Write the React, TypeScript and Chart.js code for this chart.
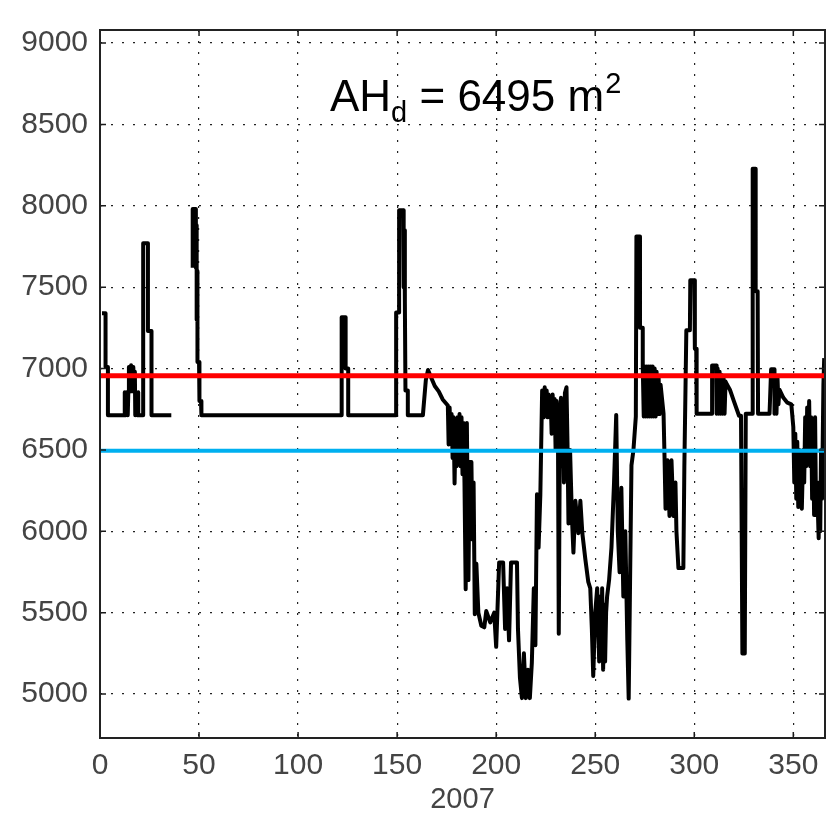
import React, { useEffect, useRef } from "react";
import { Chart, registerables } from "chart.js";

Chart.register(...registerables);

const xTicks = [0, 50, 100, 150, 200, 250, 300, 350];
const yTicks = [5000, 5500, 6000, 6500, 7000, 7500, 8000, 8500, 9000];
const xTitle = "2007";
const upperLimit = 6955;
const lowerLimit = 6495;

const days = [
  1, 2.8, 2.8, 4, 4, 12.5, 12.5, 13, 13.5, 14, 14.3, 14.6, 15.2, 15.7, 16.3, 16.8, 17.4, 17.6, 17.8, 18.3, 18.8, 19.3, 19.3,
  21.8, 21.8, 24.2, 24.2, 26, 26, 36,
  41,
  46.8, 46.8, 48.4, 48.4, 48.8, 48.8, 49.2, 49.2, 50, 50.2, 51, 51.2, 122, 122, 124, 124, 125.3, 125.3,
  149.5, 149.5, 151, 151, 153, 153.3, 153.6, 153.9, 154.2, 155.4, 155.4, 163, 164.5, 165.6, 167, 169, 171,
  173, 175.6, 176, 176.5, 177, 177.5, 178, 178.5, 179, 179.5, 180, 180.5, 181, 181.5, 182, 182.5, 183, 183.5, 184,
  184.6, 185.2, 186, 186.6, 187.5, 188, 188.6,
  189.2, 190, 191, 192.5, 194, 195, 197, 199, 200, 200.6, 201.5, 203.5, 204.5, 205.5, 206.5, 207.5, 210.5,
  211, 212, 213, 214, 215, 216, 217, 218, 219, 219.8, 220.6, 221.4, 222.3,
  223.2, 224, 224.5, 225, 225.5, 226, 226.5, 227, 227.5, 228, 228.5, 229, 229.5, 230, 230.5, 231.2, 231.6, 232.2,
  232.7, 233.2, 233.7, 234.2, 234.7, 235.5, 236, 236.5, 237.3, 238.2, 239, 240, 241.5, 242.5,
  243.5, 245, 246.5, 247.5, 248.3, 249, 250, 251, 252, 252.5, 253, 253.5, 254, 254.5, 255, 255.5, 256, 257, 258.2,
  259.5, 260.6, 261.4,
  262.3, 263.2, 264.2, 265.2, 266.2, 266.9, 267.6, 268.3, 269.3, 270.5, 270.8, 272.6, 272.6,
  274, 274, 274.5, 275, 275.5, 276, 276.5, 277, 277.5, 278, 278.5, 279, 279.5, 280, 280.5, 281, 281.5, 282, 282.5, 283,
  284.5, 285, 285.5, 286.5, 287.5, 288.5, 289.5, 290.5, 291, 292,
  294.5, 295, 296, 297.8, 298, 300, 300.3, 301, 301.2,
  309, 309, 311, 311.3, 311.8, 312.3, 312.8, 313.3, 313.8, 314.3, 314.8, 315.3, 315.8,
  316.6, 318, 320, 322.6, 323.6, 324.3, 325.5, 326, 329.5, 329.5, 331, 331, 332, 332.2,
  338, 338.8, 340.5, 340.5, 341, 341.5, 342, 342.5, 343, 345, 347, 349,
  350, 350.5, 351, 351.5, 352, 352.5, 353, 353.5, 354.3, 355, 355.5, 356, 356.5, 357, 357.5, 358, 358.5, 359,
  359.5, 360, 360.5, 361, 361.5, 362, 362.8, 363.2, 363.6, 364, 364.5, 365.2, 365.6,
];

const areaValues = [
  7340, 7340, 7010, 7010, 6713, 6713, 6855, 6713, 6855, 6713, 6855, 7010, 6860, 7020, 6860, 7010, 6860, 6980, 6713, 6855, 6713, 6855, 6713,
  6713, 7770, 7770, 7230, 7230, 6713, 6713,
  null,
  7620, 7980, 7980, 7620, 7880, 7300, 7600, 7040, 7040, 6800, 6800, 6713, 6713, 7315, 7315, 7000, 7000, 6713,
  6713, 7345, 7345, 7973, 7973, 7500, 7850, 7413, 6865, 6865, 6713, 6713, 6930, 6991, 6950, 6893, 6860,
  6810, 6773, 6533, 6760, 6560, 6720, 6450, 6700, 6294, 6650, 6400, 6700, 6500, 6720, 6400, 6700, 6350, 6665, 6300,
  5644, 6665, 5700, 6426, 6426, 5950, 6300,
  5490, 5800, 5500, 5420, 5410, 5510, 5440, 5500, 5290, 5500, 5809, 5809, 5400, 5650, 5330, 5809, 5809,
  5400, 5100, 4975, 5250, 4975, 5150, 4975, 5191, 5650, 5300, 6227, 5900, 6227,
  6865, 6700, 6885, 6720, 6865, 6700, 6840, 6705, 6813, 6600, 6840, 6720, 6813, 6500, 6800, 6600, 5370, 6705,
  6820, 6400, 6800, 6300, 6850, 6885, 6546, 6048, 6500, 6100, 5869, 6187, 5988, 6187,
  5988, 5830, 5689, 5650, 5400, 5111, 5500, 5650, 5200, 5600, 5250, 5650, 5150, 5550, 5200, 5500, 5600, 5700, 5900,
  6300, 6715, 6000,
  5749, 6267, 5600, 6000, 5330, 4972, 5700, 6406, 6500, 6705, 7812, 7812, 7250,
  7250, 7013, 6705, 7013, 6705, 7013, 6705, 7013, 6705, 7013, 6705, 7013, 6705, 7000, 6705, 6980, 6720, 6950, 6720, 6900,
  6722, 6450, 6139, 6436, 6094, 6436, 6094, 6300, 6000, 5774,
  5774, 6400, 7235, 7235, 7543, 7543, 7121, 7121, 6722,
  6722, 7018, 7018, 6722, 7000, 6722, 6980, 6722, 6960, 6722, 6940, 6722, 6920,
  6900, 6870, 6800, 6710, 6710, 5249, 5249, 6722, 6722, 8228, 8228, 7475, 7475, 6722,
  6722, 6995, 6995, 6722, 6950, 6722, 6950, 6780, 6870, 6820, 6790, 6780,
  6642, 6300, 6600, 6200, 6550, 6150, 6500, 6200, 6139, 6500, 6300, 6700, 6400, 6760, 6500, 6801, 6400, 6700,
  6200, 6600, 6100, 6700, 6100, 6300, 5957, 6300, 6000, 6500, 6200, 6900, 7064,
];

const FONT = "'Liberation Sans', Arial, sans-serif";

const frameAndLabel = {
  id: "frameAndLabel",
  afterDatasetsDraw(chart: any) {
    const { ctx, chartArea, scales } = chart;
    const { left, right, top, bottom } = chartArea;
    ctx.save();
    ctx.strokeStyle = "#1a1a1a";
    ctx.lineWidth = 1.5;
    const tl = 6;
    ctx.beginPath();
    xTicks.forEach((v) => {
      const px = scales.x.getPixelForValue(v);
      ctx.moveTo(px, bottom);
      ctx.lineTo(px, bottom - tl);
      ctx.moveTo(px, top);
      ctx.lineTo(px, top + tl);
    });
    yTicks.forEach((v) => {
      const py = scales.y.getPixelForValue(v);
      ctx.moveTo(left, py);
      ctx.lineTo(left + tl, py);
      ctx.moveTo(right, py);
      ctx.lineTo(right - tl, py);
    });
    ctx.stroke();
    ctx.lineWidth = 2;
    ctx.strokeStyle = "#222";
    ctx.strokeRect(left, top, right - left, bottom - top);

    // annotation text
    ctx.fillStyle = "#000";
    ctx.textBaseline = "alphabetic";
    ctx.textAlign = "left";
    let x = 330;
    const base = 111;
    ctx.font = `44px ${FONT}`;
    ctx.fillText("AH", x, base);
    x += ctx.measureText("AH").width;
    ctx.font = `29px ${FONT}`;
    ctx.fillText("d", x, base + 11);
    x += ctx.measureText("d").width;
    ctx.font = `44px ${FONT}`;
    ctx.fillText(" = 6495 m", x, base);
    x += ctx.measureText(" = 6495 m").width;
    ctx.font = `29px ${FONT}`;
    ctx.fillText("2", x + 1, base - 18);
    ctx.restore();
  },
};

export default function App() {
  const ref = useRef<HTMLCanvasElement | null>(null);

  useEffect(() => {
    if (!ref.current) return;
    const seriesData = days.map((d, i) => ({ x: d, y: areaValues[i] }));
    const chart = new Chart(ref.current, {
      type: "line",
      data: {
        datasets: [
          {
            label: "upper",
            data: [
              { x: 0, y: upperLimit },
              { x: 366, y: upperLimit },
            ],
            borderColor: "#ff0000",
            borderWidth: 5,
            pointRadius: 0,
          },
          {
            label: "lower",
            data: [
              { x: 0, y: lowerLimit },
              { x: 366, y: lowerLimit },
            ],
            borderColor: "#00b0f0",
            borderWidth: 4,
            pointRadius: 0,
          },
          {
            label: "AH",
            data: seriesData,
            borderColor: "#000000",
            borderWidth: 4,
            pointRadius: 0,
            spanGaps: false,
            borderJoinStyle: "round",
            tension: 0,
          },
        ],
      },
      options: {
        animation: false,
        responsive: false,
        layout: { padding: { left: 0, right: 5, top: 12, bottom: 0 } },
        plugins: {
          legend: { display: false },
          tooltip: { enabled: false },
        },
        scales: {
          x: {
            type: "linear",
            min: 0,
            max: 366,
            afterBuildTicks: (scale: any) => {
              scale.ticks = xTicks.map((v) => ({ value: v }));
            },
            afterFit: (scale: any) => {
              scale.height = 81;
            },
            grid: {
              color: "#222",
              lineWidth: 1.2,
              drawTicks: false,
            },
            border: { display: false, dash: [2, 9] },
            ticks: {
              padding: 10,
              color: "#444",
              font: { family: FONT, size: 30 },
              maxRotation: 0,
              callback: (v: any) => String(v),
            },
            title: {
              display: true,
              text: xTitle,
              color: "#444",
              font: { family: FONT, size: 29 },
              padding: { top: 0, bottom: 2 },
            },
          },
          y: {
            type: "linear",
            min: 4730,
            max: 9080,
            afterBuildTicks: (scale: any) => {
              scale.ticks = yTicks.map((v) => ({ value: v }));
            },
            afterFit: (scale: any) => {
              scale.width = 100;
            },
            grid: {
              color: "#222",
              lineWidth: 1.2,
              drawTicks: false,
            },
            border: { display: false, dash: [2, 9] },
            ticks: {
              padding: 12,
              color: "#444",
              font: { family: FONT, size: 30 },
              callback: (v: any) => String(v),
            },
          },
        },
      },
      plugins: [frameAndLabel],
    });
    return () => chart.destroy();
  }, []);

  return (
    <div style={{ position: "absolute", left: 0, top: 0, width: 830, height: 819, background: "#fff" }}>
      <canvas ref={ref} width={830} height={819} style={{ width: 830, height: 819 }} />
    </div>
  );
}
